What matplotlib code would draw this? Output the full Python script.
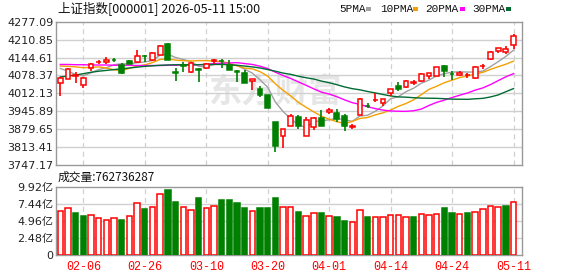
#上证指数 daily K-line with PMA lines and volume
import matplotlib
matplotlib.use('Agg')
import matplotlib.pyplot as plt
import numpy as np
import pandas as pd

plt.rcParams['font.family'] = ['DejaVu Sans', 'Noto Sans CJK SC']

# daily bars, 2026-02-03 .. 2026-05-11
opens = [4048.9, 4066.1, 4074.7, 4044.0, 4106.6, 4127.4, 4128.7, 4137.2, 4118.8, 4131.1,
         4128.7, 4152.0, 4134.8, 4155.6, 4193.7, 4090.6, 4115.2, 4089.4, 4101.7, 4104.1,
         4132.3, 4133.6, 4118.8, 4093.1, 4088.2, 4057.5, 4026.8, 4006.0, 3906.6, 3852.6,
         3893.1, 3923.8, 3855.1, 3887.0, 3922.6, 3943.4, 3938.5, 3928.7, 3888.0, 3932.4,
         3966.7, 3986.4, 3975.3, 4012.1, 4040.3, 4034.2, 4051.4, 4056.3, 4075.9, 4075.9,
         4112.7, 4084.5, 4078.4, 4078.4, 4067.3, 4111.5, 4138.5, 4170.4, 4165.0, 4192.4]
highs = [4071.0, 4105.0, 4089.4, 4073.5, 4125.0, 4136.0, 4145.8, 4144.6, 4126.2, 4136.0,
         4171.6, 4153.0, 4165.5, 4190.0, 4199.8, 4106.6, 4127.4, 4128.7, 4104.1, 4126.2,
         4138.5, 4141.0, 4134.8, 4098.0, 4098.0, 4066.0, 4040.3, 4007.0, 3908.0, 3881.0,
         3935.0, 3933.6, 3923.8, 3926.2, 3949.6, 3956.9, 3954.5, 3934.8, 3899.3, 3995.0,
         3977.8, 4012.1, 3991.3, 4029.3, 4053.8, 4061.2, 4061.2, 4085.7, 4088.2, 4110.3,
         4118.8, 4095.5, 4094.3, 4088.2, 4112.7, 4122.5, 4169.1, 4181.4, 4186.0, 4232.9]
lows = [4003.5, 4065.0, 4051.4, 4033.0, 4095.5, 4120.0, 4122.5, 4127.4, 4084.5, 4120.0,
        4126.2, 4127.0, 4132.3, 4154.4, 4136.0, 4058.7, 4091.8, 4088.2, 4055.0, 4102.9,
        4120.0, 4106.6, 4096.8, 4052.6, 4050.2, 4024.4, 3997.4, 3958.0, 3793.8, 3808.5,
        3890.0, 3879.6, 3852.6, 3876.0, 3891.9, 3934.8, 3907.9, 3872.3, 3879.6, 3931.2,
        3956.9, 3980.2, 3965.5, 4002.3, 4022.0, 4033.0, 4042.8, 4053.8, 4063.7, 4074.7,
        4073.5, 4061.2, 4075.9, 4067.3, 4066.1, 4101.7, 4134.8, 4163.0, 4157.0, 4176.5]
closes = [4068.5, 4102.9, 4078.4, 4068.5, 4122.5, 4128.7, 4134.8, 4136.0, 4085.7, 4121.3,
          4149.5, 4148.5, 4163.0, 4186.3, 4137.2, 4088.2, 4112.7, 4125.0, 4099.2, 4121.3,
          4134.8, 4131.1, 4098.0, 4090.6, 4051.4, 4063.7, 4007.2, 3959.4, 3815.8, 3879.6,
          3929.9, 3891.9, 3914.0, 3922.6, 3893.1, 3950.8, 3916.5, 3890.0, 3892.0, 3992.5,
          3964.3, 3988.8, 3990.1, 4026.8, 4029.3, 4056.3, 4053.8, 4082.0, 4085.7, 4107.8,
          4095.5, 4082.0, 4088.2, 4080.8, 4107.8, 4114.0, 4164.2, 4180.2, 4177.5, 4224.3]
# volume in 亿
volumes = [6.40, 6.89, 6.16, 5.72, 5.87, 5.43, 5.13, 5.43, 5.13, 5.72,
           7.48, 6.65, 7.04, 8.80, 9.38, 7.77, 7.04, 6.60, 8.21, 6.89,
           7.18, 8.06, 8.06, 7.48, 6.89, 6.45, 6.89, 6.89, 8.21, 7.04,
           7.04, 6.30, 5.72, 6.16, 6.16, 5.72, 5.57, 4.99, 4.84, 6.60,
           5.57, 5.57, 5.57, 5.87, 5.87, 5.57, 5.57, 6.01, 5.87, 6.01,
           6.89, 6.16, 6.01, 6.16, 6.30, 6.74, 7.18, 7.04, 7.18, 7.63]

# MA values at the start of the window (history before the first bar)
ma5_head = [4104, 4094, 4082, 4077]
ma10_head = [4113, 4112, 4110, 4107, 4108, 4110, 4106, 4099, 4096]
ma20_head = [4119, 4119, 4118, 4118, 4117, 4117, 4117, 4116, 4116, 4116,
             4115, 4115, 4115, 4115, 4116, 4116, 4117, 4117, 4118]
ma30_head = [4073, 4076, 4080, 4085, 4090, 4094, 4097, 4100, 4103, 4106,
             4109, 4112, 4114, 4116, 4117, 4118, 4118, 4118, 4118, 4119,
             4119, 4119, 4118, 4116, 4113, 4110, 4106, 4100, 4094]

tick_idx = [3, 11, 19, 27, 35, 43, 51, 59]
tick_labels = ['02-06', '02-26', '03-10', '03-20', '04-01', '04-14', '04-24', '05-11']
price_ticks = [3747.17, 3813.41, 3879.65, 3945.89, 4012.13, 4078.37, 4144.61, 4210.85, 4277.09]
vol_ticks = [0, 2.48, 4.96, 7.44, 9.92]
vol_labels = ['0', '2.48亿', '4.96亿', '7.44亿', '9.92亿']

RED = '#ff0000'
GREEN = '#008000'
GRID = '#d0d0d0'
FRAME = '#999999'

o = np.array(opens); h = np.array(highs); l = np.array(lows); c = np.array(closes)
x = np.arange(len(c))
up = c >= o
vol_up = np.r_[True, c[1:] >= c[:-1]]

def moving(n, head):
    m = pd.Series(c).rolling(n).mean().to_numpy()
    m[:len(head)] = head
    return m

mas = [(moving(5, ma5_head), '#a0a0a0', '5PMA'),
       (moving(10, ma10_head), '#f5a000', '10PMA'),
       (moving(20, ma20_head), '#ff00ff', '20PMA'),
       (moving(30, ma30_head), '#006b33', '30PMA')]

fig = plt.figure(figsize=(5.78, 2.76), dpi=100)
ax = fig.add_axes([56/578, 111/276, 466/578, 143.3/276])
axv = fig.add_axes([56/578, 21/276, 466/578, 68.3/276])

xlim = (-0.56, 60.1)
for a in (ax, axv):
    a.set_xlim(*xlim)
    for s in a.spines.values():
        s.set_color(FRAME)
        s.set_linewidth(1.0)
    a.tick_params(length=0, labelsize=8, colors='#222222', pad=2)
    for t in tick_idx:
        a.axvline(t, color=GRID, lw=0.9, ls=(0, (4, 3)), zorder=0)

# watermark
ax.text(0.47, 0.5, '东方财富', transform=ax.transAxes, fontsize=24, fontweight='bold',
        color='#e6e6e6', ha='center', va='center', family=['Noto Sans CJK SC'], zorder=0)

# price panel
ax.set_ylim(price_ticks[0], price_ticks[-1])
ax.set_yticks(price_ticks)
ax.set_yticklabels(['%.2f' % p for p in price_ticks])
for p in price_ticks[1:-1]:
    ax.axhline(p, color=GRID, lw=1.0, zorder=0)
ax.set_xticks([])

for m, col, name in mas:
    ax.plot(x, m, color=col, lw=1.0, zorder=2)

ax.vlines(x, l, h, colors=np.where(up, RED, GREEN), lw=1.2, zorder=3)
body_lo = np.minimum(o, c)
body_hi = np.maximum(o, c)
body_h = np.maximum(body_hi - body_lo, 0.8)
ax.bar(x[up], body_h[up], bottom=body_lo[up], width=0.62, facecolor='white',
       edgecolor=RED, lw=1.1, zorder=4)
ax.bar(x[~up], body_h[~up], bottom=body_lo[~up], width=0.62, facecolor=GREEN,
       edgecolor=GREEN, lw=1.1, zorder=4)

# volume panel
v = np.array(volumes)
axv.set_ylim(0, 9.92)
axv.set_yticks(vol_ticks)
axv.set_yticklabels(vol_labels)
for p in vol_ticks[1:-1]:
    axv.axhline(p, color=GRID, lw=1.0, zorder=0)
axv.bar(x[vol_up], v[vol_up], width=0.7, facecolor='white', edgecolor=RED, lw=1.1, zorder=3)
axv.bar(x[~vol_up], v[~vol_up], width=0.7, facecolor=GREEN, edgecolor=GREEN, lw=1.1, zorder=3)
axv.set_xticks(tick_idx)
axv.set_xticklabels(tick_labels, color=RED, fontsize=8.5, family=['Liberation Mono'])
axv.tick_params(axis='x', pad=4)

# header texts
fig.text(58/578, 1 - 9/276, '上证指数[000001] 2026-05-11 15:00', fontsize=9,
         va='center', ha='left', color='#111111', family=['Noto Sans CJK SC', 'DejaVu Sans'])
fig.text(58/578, 1 - 177.5/276, '成交量:762736287', fontsize=8.5,
         va='center', ha='left', color='#111111', family=['Noto Sans CJK SC', 'DejaVu Sans'])

leg_x = [339, 380, 425, 472]
leg_sw = [366, 413, 460, 506]
for (m, col, name), lx, sx in zip(mas, leg_x, leg_sw):
    fig.text(lx/578, 1 - 9/276, name, fontsize=8, va='center', ha='left',
             color='#111111', family=['Liberation Mono'])
    fig.patches.append(plt.Rectangle((sx/578, 1 - 10.5/276), 5/578, 3/276,
                                     transform=fig.transFigure, facecolor=col,
                                     edgecolor='none'))

fig.savefig('out.png', dpi=100)
plt.close(fig)
